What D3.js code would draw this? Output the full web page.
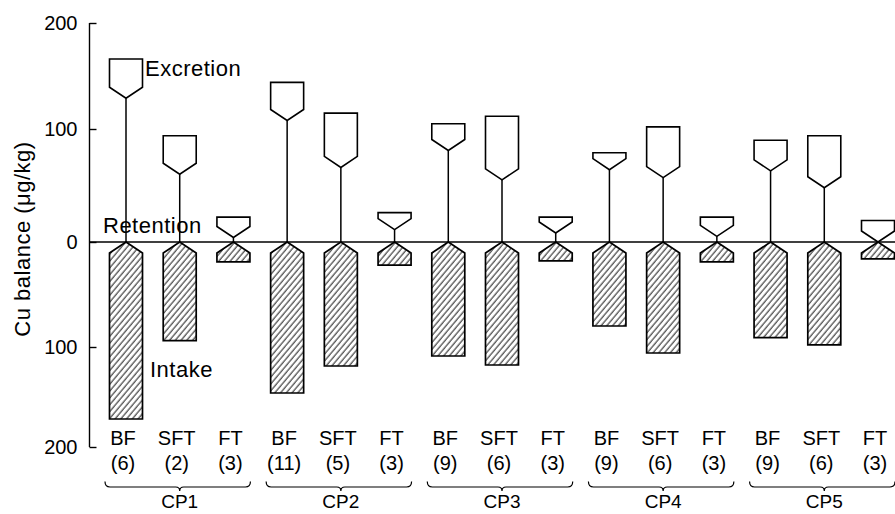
<!DOCTYPE html>
<html>
<head>
<meta charset="utf-8">
<script src="https://cdn.jsdelivr.net/npm/d3@7"></script>
<style>
  html, body { margin: 0; padding: 0; background: #fff; }
  svg { display: block; }
  text { font-family: "Liberation Sans", Arial, Helvetica, sans-serif; fill: #000; }
</style>
</head>
<body>
<svg id="chart" width="895" height="514"></svg>
<script>
// ---- data ----
const groups = ["CP1", "CP2", "CP3", "CP4", "CP5"];
const feedTypes = ["BF", "SFT", "FT"];
const counts = [6, 2, 3, 11, 5, 3, 9, 6, 3, 9, 6, 3, 9, 6, 3];
// intake (plotted downwards), µg/kg
const intake = [172, 94, 19, 146, 119, 22, 109, 118, 18, 80, 106, 19, 91, 98, 16];
// retention (top of stem), µg/kg
const retention = [129, 60, 4, 108, 66, 11, 81, 55, 8, 64, 57, 5, 63, 48, 0];
// excretion (height of the open box above the retention point), µg/kg
const excretion = [37, 34, 18, 36, 49, 15, 24, 57, 14, 15, 45, 17, 27, 46, 19];
const yTickValues = [200, 100, 0, -100, -200];
const yTickLabels = ["200", "100", "0", "100", "200"];

// ---- layout ----
const svg = d3.select("#chart");
const axisX = 89.5;
const keys = [];
groups.forEach(g => feedTypes.forEach(t => keys.push(g + "-" + t)));

const x = d3.scalePoint().domain(keys).range([126, 878]);
// the printed axis is slightly uneven; use a piecewise-linear scale through its ticks
const y = d3.scaleLinear().domain([200, 100, 0, -100, -200]).range([23, 129, 242, 347, 447]);

const half = 16.5;   // half width of glyphs
const ch = 11;       // chevron height in px

const rows = keys.map((k, i) => ({
  key: k, group: groups[Math.floor(i / 3)], type: feedTypes[i % 3],
  n: counts[i], intake: intake[i], retention: retention[i], excretion: excretion[i]
}));

// hatch pattern
const defs = svg.append("defs");
defs.append("pattern")
  .attr("id", "hatch")
  .attr("patternUnits", "userSpaceOnUse")
  .attr("width", 4.4).attr("height", 10)
  .attr("patternTransform", "rotate(40)")
  .append("line")
  .attr("x1", 1).attr("y1", 0).attr("x2", 1).attr("y2", 10)
  .attr("stroke", "#000").attr("stroke-width", 0.9);

// y axis
const yAxis = d3.axisRight(y).tickValues(yTickValues).tickSize(7)
  .tickFormat((d, i) => yTickLabels[i]);
const gy = svg.append("g").attr("transform", `translate(${axisX},0)`).call(yAxis);
gy.select(".domain").attr("d", `M0,${y(200)}V${y(-200)}`).attr("stroke", "#000").attr("stroke-width", 1.4);
gy.selectAll(".tick line").attr("stroke", "#000").attr("stroke-width", 1.4);
gy.selectAll(".tick text")
  .attr("x", -12).attr("text-anchor", "end")
  .attr("font-size", 20).attr("font-family", "Liberation Sans, Arial, sans-serif");

// zero line
svg.append("line")
  .attr("x1", axisX).attr("x2", 895).attr("y1", y(0)).attr("y2", y(0))
  .attr("stroke", "#000").attr("stroke-width", 1.3);

// y axis title
svg.append("text")
  .attr("transform", `translate(30,${(y(200) + y(-200)) / 2 + 4}) rotate(-90)`)
  .attr("text-anchor", "middle").attr("font-size", 22).attr("letter-spacing", 0.5)
  .text("Cu balance (\u03BCg/kg)");

const glyphs = svg.append("g");

// intake: hatched pointed bars
glyphs.selectAll("path.intake").data(rows).join("path")
  .attr("class", "intake")
  .attr("d", d => {
    const cx = x(d.key), y0 = y(0), yb = y(-d.intake);
    return `M${cx},${y0}L${cx + half},${y0 + ch}L${cx + half},${yb}L${cx - half},${yb}L${cx - half},${y0 + ch}Z`;
  })
  .attr("fill", "url(#hatch)")
  .attr("stroke", "#000").attr("stroke-width", 1.7).attr("stroke-linejoin", "miter");

// retention stems
glyphs.selectAll("line.stem").data(rows).join("line")
  .attr("class", "stem")
  .attr("x1", d => x(d.key)).attr("x2", d => x(d.key))
  .attr("y1", y(0)).attr("y2", d => y(d.retention))
  .attr("stroke", "#000").attr("stroke-width", 1.5);

// excretion: open pointed boxes
glyphs.selectAll("path.excretion").data(rows).join("path")
  .attr("class", "excretion")
  .attr("d", d => {
    const cx = x(d.key), yv = y(d.retention), yt = y(d.retention + d.excretion);
    return `M${cx - half},${yt}L${cx + half},${yt}L${cx + half},${yv - ch}L${cx},${yv}L${cx - half},${yv - ch}Z`;
  })
  .attr("fill", "#fff")
  .attr("stroke", "#000").attr("stroke-width", 1.6).attr("stroke-linejoin", "miter");

// annotations
svg.append("text").attr("x", 145).attr("y", 76).attr("font-size", 22).attr("letter-spacing", 0.5).text("Excretion");
svg.append("text").attr("x", 103).attr("y", 233).attr("font-size", 22).attr("letter-spacing", 0.5).text("Retention");
svg.append("text").attr("x", 150).attr("y", 377).attr("font-size", 22).attr("letter-spacing", 0.5).text("Intake");

// category labels
const lab = svg.append("g");
lab.selectAll("text.type").data(rows).join("text")
  .attr("class", "type")
  .attr("x", d => x(d.key) - 3).attr("y", 445)
  .attr("text-anchor", "middle").attr("font-size", 20)
  .text(d => d.type);
lab.selectAll("text.n").data(rows).join("text")
  .attr("class", "n")
  .attr("x", d => x(d.key) - 3).attr("y", 470)
  .attr("text-anchor", "middle").attr("font-size", 20)
  .text(d => `(${d.n})`);

// braces and group labels
const braceData = groups.map(g => ({
  g,
  x0: x(g + "-BF") - 21,
  xm: x(g + "-SFT"),
  x1: x(g + "-FT") + 17
}));
lab.selectAll("path.brace").data(braceData).join("path")
  .attr("class", "brace")
  .attr("d", d => {
    const yt = 481.5, yl = 487, yp = 491;
    return `M${d.x0},${yt}Q${d.x0},${yl} ${d.x0 + 5},${yl}L${d.xm - 4},${yl}Q${d.xm},${yl} ${d.xm},${yp}` +
           `Q${d.xm},${yl} ${d.xm + 4},${yl}L${d.x1 - 5},${yl}Q${d.x1},${yl} ${d.x1},${yt}`;
  })
  .attr("fill", "none").attr("stroke", "#000").attr("stroke-width", 1.2);
lab.selectAll("text.grp").data(braceData).join("text")
  .attr("class", "grp")
  .attr("x", d => d.xm).attr("y", 508)
  .attr("text-anchor", "middle").attr("font-size", 19)
  .text(d => d.g);
</script>
</body>
</html>
